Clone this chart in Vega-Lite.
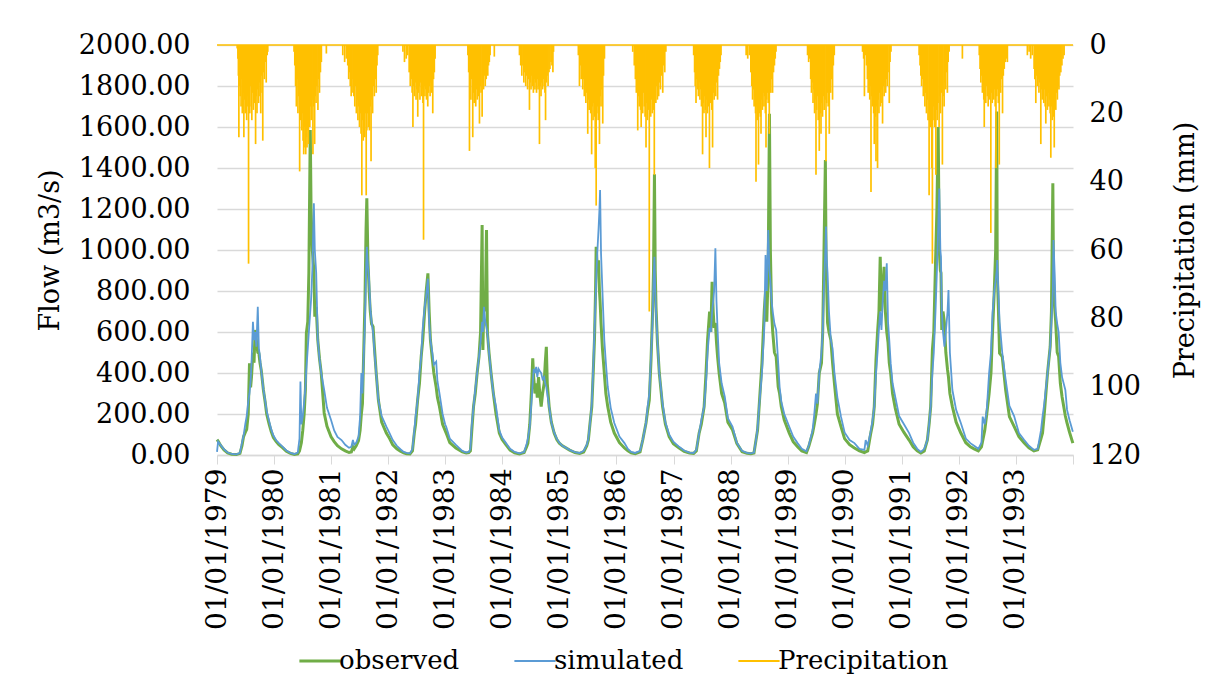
{
"$schema":"https://vega.github.io/schema/vega-lite/v6.json",
"width":856,"height":410,
"autosize":{"type":"none"},
"padding":{"left":217,"top":45,"right":139,"bottom":241},
"background":"white",
"config":{"view":{"stroke":null},"font":"DejaVu Serif, serif","legend":{"labelFont":"DejaVu Serif, serif"},"axis":{"labelFont":"DejaVu Serif, serif","titleFont":"DejaVu Serif, serif","labelColor":"black","titleColor":"black","titleFontWeight":"normal","labelFlush":false,"labelOverlap":false,"labelBound":false}},
"datasets":{
"flow":[
{"d":"1979-01-01","o":75,"s":15},{"d":"1979-01-08","o":68,"s":65},{"d":"1979-01-25","o":45,"s":48},{"d":"1979-02-15","o":25,"s":28},{"d":"1979-03-10","o":10,"s":12},{"d":"1979-04-05","o":4,"s":5},{"d":"1979-05-05","o":2,"s":3},{"d":"1979-05-28","o":8,"s":10},{"d":"1979-06-10","o":45,"s":60},{"d":"1979-06-20","o":90,"s":95},{"d":"1979-07-01","o":110,"s":150},{"d":"1979-07-10","o":125,"s":190},{"d":"1979-07-20","o":200,"s":260},{"d":"1979-07-28","o":447,"s":300},{"d":"1979-08-04","o":330,"s":360},{"d":"1979-08-10","o":382,"s":450},{"d":"1979-08-19","o":500,"s":650},{"d":"1979-08-26","o":450,"s":560},{"d":"1979-09-02","o":610,"s":600},{"d":"1979-09-10","o":560,"s":528},{"d":"1979-09-19","o":500,"s":723},{"d":"1979-09-26","o":496,"s":520},{"d":"1979-10-03","o":450,"s":480},{"d":"1979-10-11","o":415,"s":415},{"d":"1979-10-25","o":317,"s":320},{"d":"1979-11-05","o":260,"s":268},{"d":"1979-11-15","o":200,"s":215},{"d":"1979-12-01","o":150,"s":165},{"d":"1979-12-14","o":115,"s":125},{"d":"1979-12-28","o":85,"s":95},
{"d":"1980-01-15","o":65,"s":72},{"d":"1980-02-01","o":50,"s":58},{"d":"1980-02-26","o":35,"s":40},{"d":"1980-03-20","o":18,"s":22},{"d":"1980-04-15","o":8,"s":10},{"d":"1980-05-10","o":3,"s":5},{"d":"1980-06-01","o":6,"s":12},{"d":"1980-06-12","o":20,"s":80},{"d":"1980-06-18","o":40,"s":358},{"d":"1980-06-24","o":60,"s":150},{"d":"1980-07-03","o":120,"s":187},{"d":"1980-07-12","o":200,"s":260},{"d":"1980-07-20","o":320,"s":330},{"d":"1980-07-26","o":595,"s":420},{"d":"1980-08-04","o":650,"s":520},{"d":"1980-08-11","o":888,"s":600},{"d":"1980-08-20","o":1585,"s":700},{"d":"1980-08-25","o":1200,"s":756},{"d":"1980-09-02","o":1000,"s":900},{"d":"1980-09-12","o":900,"s":1228},{"d":"1980-09-18","o":675,"s":1000},{"d":"1980-09-27","o":723,"s":888},{"d":"1980-10-07","o":561,"s":561},{"d":"1980-10-18","o":470,"s":470},{"d":"1980-10-29","o":400,"s":400},{"d":"1980-11-17","o":205,"s":317},{"d":"1980-12-05","o":140,"s":230},{"d":"1980-12-31","o":89,"s":171},
{"d":"1981-01-20","o":65,"s":120},{"d":"1981-02-10","o":45,"s":88},{"d":"1981-03-08","o":30,"s":73},{"d":"1981-04-01","o":20,"s":50},{"d":"1981-04-25","o":12,"s":35},{"d":"1981-05-10","o":15,"s":40},{"d":"1981-05-20","o":40,"s":73},{"d":"1981-05-28","o":30,"s":50},{"d":"1981-06-10","o":45,"s":60},{"d":"1981-06-25","o":70,"s":90},{"d":"1981-07-05","o":120,"s":187},{"d":"1981-07-13","o":200,"s":400},{"d":"1981-07-20","o":250,"s":300},{"d":"1981-07-28","o":500,"s":480},{"d":"1981-08-05","o":750,"s":650},{"d":"1981-08-12","o":1100,"s":900},{"d":"1981-08-17","o":1252,"s":1016},{"d":"1981-08-24","o":950,"s":918},{"d":"1981-09-01","o":800,"s":850},{"d":"1981-09-08","o":700,"s":723},{"d":"1981-09-16","o":640,"s":650},{"d":"1981-09-26","o":626,"s":600},{"d":"1981-10-05","o":520,"s":500},{"d":"1981-10-16","o":400,"s":400},{"d":"1981-10-30","o":268,"s":268},{"d":"1981-11-20","o":160,"s":190},{"d":"1981-12-20","o":107,"s":138},
{"d":"1982-01-10","o":80,"s":105},{"d":"1982-01-30","o":49,"s":73},{"d":"1982-02-25","o":30,"s":45},{"d":"1982-03-20","o":18,"s":28},{"d":"1982-04-10","o":10,"s":15},{"d":"1982-04-28","o":6,"s":10},{"d":"1982-05-20","o":5,"s":8},{"d":"1982-06-05","o":20,"s":30},{"d":"1982-06-17","o":107,"s":120},{"d":"1982-06-25","o":150,"s":190},{"d":"1982-07-08","o":268,"s":268},{"d":"1982-07-20","o":350,"s":400},{"d":"1982-07-31","o":480,"s":480},{"d":"1982-08-10","o":560,"s":620},{"d":"1982-08-22","o":700,"s":720},{"d":"1982-09-01","o":800,"s":780},{"d":"1982-09-12","o":886,"s":860},{"d":"1982-09-20","o":700,"s":650},{"d":"1982-09-28","o":561,"s":561},{"d":"1982-10-10","o":470,"s":500},{"d":"1982-10-20","o":400,"s":440},{"d":"1982-11-04","o":330,"s":455},{"d":"1982-11-12","o":280,"s":360},{"d":"1982-11-25","o":236,"s":301},{"d":"1982-12-15","o":150,"s":200},{"d":"1982-12-31","o":120,"s":150},
{"d":"1983-01-07","o":107,"s":138},{"d":"1983-01-30","o":60,"s":80},{"d":"1983-03-10","o":34,"s":49},{"d":"1983-04-20","o":15,"s":20},{"d":"1983-05-15","o":10,"s":12},{"d":"1983-06-01","o":12,"s":15},{"d":"1983-06-11","o":20,"s":30},{"d":"1983-06-20","o":120,"s":150},{"d":"1983-07-01","o":236,"s":236},{"d":"1983-07-12","o":300,"s":320},{"d":"1983-07-24","o":400,"s":400},{"d":"1983-08-05","o":480,"s":480},{"d":"1983-08-15","o":600,"s":550},{"d":"1983-08-25","o":1122,"s":650},{"d":"1983-08-30","o":512,"s":600},{"d":"1983-09-06","o":800,"s":723},{"d":"1983-09-14","o":700,"s":650},{"d":"1983-09-22","o":1098,"s":620},{"d":"1983-09-28","o":595,"s":595},{"d":"1983-10-08","o":500,"s":500},{"d":"1983-10-21","o":400,"s":400},{"d":"1983-11-05","o":300,"s":300},{"d":"1983-11-22","o":200,"s":236},{"d":"1983-12-13","o":107,"s":120},{"d":"1983-12-31","o":75,"s":85},
{"d":"1984-01-25","o":49,"s":58},{"d":"1984-02-20","o":24,"s":30},{"d":"1984-03-20","o":10,"s":15},{"d":"1984-04-20","o":5,"s":8},{"d":"1984-05-20","o":12,"s":15},{"d":"1984-06-05","o":40,"s":55},{"d":"1984-06-13","o":58,"s":80},{"d":"1984-06-25","o":150,"s":140},{"d":"1984-07-05","o":300,"s":250},{"d":"1984-07-14","o":472,"s":350},{"d":"1984-07-20","o":380,"s":420},{"d":"1984-07-28","o":300,"s":400},{"d":"1984-08-05","o":350,"s":430},{"d":"1984-08-12","o":280,"s":380},{"d":"1984-08-20","o":380,"s":420},{"d":"1984-08-28","o":300,"s":410},{"d":"1984-09-06","o":236,"s":400},{"d":"1984-09-15","o":300,"s":370},{"d":"1984-09-25","o":350,"s":380},{"d":"1984-10-02","o":450,"s":350},{"d":"1984-10-09","o":528,"s":330},{"d":"1984-10-15","o":350,"s":300},{"d":"1984-10-27","o":236,"s":236},{"d":"1984-11-10","o":160,"s":160},{"d":"1984-11-28","o":107,"s":110},{"d":"1984-12-15","o":75,"s":80},{"d":"1984-12-31","o":58,"s":60},
{"d":"1985-01-20","o":45,"s":45},{"d":"1985-03-07","o":24,"s":25},{"d":"1985-04-10","o":12,"s":14},{"d":"1985-05-10","o":8,"s":10},{"d":"1985-06-05","o":15,"s":20},{"d":"1985-06-25","o":45,"s":50},{"d":"1985-07-05","o":73,"s":80},{"d":"1985-07-15","o":150,"s":150},{"d":"1985-07-27","o":236,"s":250},{"d":"1985-08-05","o":400,"s":420},{"d":"1985-08-13","o":561,"s":600},{"d":"1985-08-20","o":800,"s":750},{"d":"1985-08-24","o":1016,"s":850},{"d":"1985-09-01","o":900,"s":1000},{"d":"1985-09-08","o":950,"s":1100},{"d":"1985-09-14","o":800,"s":1200},{"d":"1985-09-18","o":750,"s":1293},{"d":"1985-09-24","o":644,"s":985},{"d":"1985-10-03","o":520,"s":800},{"d":"1985-10-15","o":400,"s":561},{"d":"1985-10-25","o":300,"s":450},{"d":"1985-11-06","o":236,"s":333},{"d":"1985-11-25","o":160,"s":230},{"d":"1985-12-18","o":107,"s":156},
{"d":"1986-01-20","o":60,"s":90},{"d":"1986-02-21","o":34,"s":58},{"d":"1986-03-15","o":20,"s":30},{"d":"1986-04-05","o":10,"s":15},{"d":"1986-05-01","o":6,"s":10},{"d":"1986-06-01","o":15,"s":20},{"d":"1986-06-18","o":73,"s":73},{"d":"1986-07-09","o":156,"s":156},{"d":"1986-07-20","o":220,"s":240},{"d":"1986-07-30","o":268,"s":300},{"d":"1986-08-10","o":463,"s":480},{"d":"1986-08-20","o":700,"s":650},{"d":"1986-08-26","o":900,"s":850},{"d":"1986-09-01","o":1370,"s":967},{"d":"1986-09-06","o":900,"s":805},{"d":"1986-09-11","o":723,"s":700},{"d":"1986-09-20","o":550,"s":560},{"d":"1986-10-02","o":400,"s":400},{"d":"1986-10-23","o":236,"s":250},{"d":"1986-11-10","o":150,"s":160},{"d":"1986-12-04","o":89,"s":100},{"d":"1986-12-31","o":55,"s":65},
{"d":"1987-02-06","o":34,"s":40},{"d":"1987-03-10","o":18,"s":22},{"d":"1987-04-13","o":10,"s":12},{"d":"1987-05-10","o":8,"s":10},{"d":"1987-05-27","o":20,"s":25},{"d":"1987-06-14","o":107,"s":107},{"d":"1987-06-28","o":150,"s":170},{"d":"1987-07-16","o":236,"s":236},{"d":"1987-07-28","o":400,"s":350},{"d":"1987-08-07","o":561,"s":500},{"d":"1987-08-20","o":700,"s":620},{"d":"1987-08-28","o":600,"s":600},{"d":"1987-09-05","o":845,"s":700},{"d":"1987-09-12","o":700,"s":750},{"d":"1987-09-18","o":620,"s":800},{"d":"1987-09-26","o":644,"s":1008},{"d":"1987-10-03","o":550,"s":750},{"d":"1987-10-10","o":480,"s":610},{"d":"1987-10-20","o":400,"s":450},{"d":"1987-11-05","o":300,"s":350},{"d":"1987-11-25","o":253,"s":284},{"d":"1987-12-15","o":160,"s":180},
{"d":"1988-01-14","o":122,"s":138},{"d":"1988-02-10","o":57,"s":60},{"d":"1988-03-15","o":16,"s":20},{"d":"1988-04-15","o":8,"s":10},{"d":"1988-05-10","o":6,"s":8},{"d":"1988-05-30","o":10,"s":12},{"d":"1988-06-12","o":73,"s":73},{"d":"1988-06-22","o":122,"s":130},{"d":"1988-07-02","o":236,"s":236},{"d":"1988-07-20","o":448,"s":400},{"d":"1988-08-04","o":707,"s":620},{"d":"1988-08-12","o":800,"s":976},{"d":"1988-08-20","o":650,"s":800},{"d":"1988-08-29","o":900,"s":1098},{"d":"1988-09-06","o":1665,"s":900},{"d":"1988-09-12","o":1000,"s":850},{"d":"1988-09-20","o":692,"s":750},{"d":"1988-09-27","o":600,"s":700},{"d":"1988-10-08","o":500,"s":640},{"d":"1988-10-19","o":480,"s":610},{"d":"1988-11-01","o":333,"s":450},{"d":"1988-11-10","o":300,"s":333},{"d":"1988-11-21","o":236,"s":260},{"d":"1988-12-10","o":170,"s":200},
{"d":"1989-01-11","o":107,"s":138},{"d":"1989-02-05","o":65,"s":90},{"d":"1989-03-05","o":40,"s":58},{"d":"1989-04-01","o":20,"s":30},{"d":"1989-05-01","o":12,"s":18},{"d":"1989-05-15","o":40,"s":45},{"d":"1989-06-09","o":107,"s":120},{"d":"1989-06-20","o":150,"s":200},{"d":"1989-07-01","o":200,"s":300},{"d":"1989-07-10","o":250,"s":250},{"d":"1989-07-22","o":400,"s":400},{"d":"1989-08-05","o":448,"s":500},{"d":"1989-08-13","o":600,"s":600},{"d":"1989-08-20","o":936,"s":800},{"d":"1989-08-30","o":1439,"s":1000},{"d":"1989-09-03","o":1000,"s":1114},{"d":"1989-09-08","o":800,"s":950},{"d":"1989-09-13","o":644,"s":888},{"d":"1989-09-22","o":600,"s":700},{"d":"1989-10-04","o":561,"s":561},{"d":"1989-10-15","o":450,"s":520},{"d":"1989-10-27","o":350,"s":400},{"d":"1989-11-15","o":200,"s":280},{"d":"1989-12-08","o":138,"s":187},{"d":"1989-12-31","o":80,"s":110},
{"d":"1990-02-01","o":50,"s":73},{"d":"1990-03-04","o":34,"s":58},{"d":"1990-04-05","o":20,"s":30},{"d":"1990-05-07","o":12,"s":25},{"d":"1990-05-15","o":15,"s":73},{"d":"1990-05-28","o":20,"s":45},{"d":"1990-06-15","o":100,"s":110},{"d":"1990-06-28","o":150,"s":170},{"d":"1990-07-09","o":236,"s":236},{"d":"1990-07-20","o":463,"s":400},{"d":"1990-07-30","o":600,"s":500},{"d":"1990-08-08","o":700,"s":620},{"d":"1990-08-16","o":967,"s":700},{"d":"1990-08-24","o":700,"s":610},{"d":"1990-09-01","o":800,"s":750},{"d":"1990-09-10","o":918,"s":850},{"d":"1990-09-18","o":700,"s":800},{"d":"1990-09-27","o":600,"s":935},{"d":"1990-10-05","o":550,"s":650},{"d":"1990-10-13","o":450,"s":561},{"d":"1990-10-22","o":400,"s":448},{"d":"1990-11-03","o":300,"s":350},{"d":"1990-11-20","o":230,"s":284},{"d":"1990-12-15","o":150,"s":190},
{"d":"1991-01-15","o":110,"s":150},{"d":"1991-02-17","o":73,"s":107},{"d":"1991-03-15","o":40,"s":60},{"d":"1991-04-10","o":20,"s":30},{"d":"1991-05-03","o":10,"s":15},{"d":"1991-05-25","o":20,"s":30},{"d":"1991-06-14","o":73,"s":73},{"d":"1991-06-25","o":150,"s":150},{"d":"1991-07-05","o":236,"s":236},{"d":"1991-07-16","o":512,"s":400},{"d":"1991-07-25","o":600,"s":500},{"d":"1991-08-05","o":936,"s":700},{"d":"1991-08-14","o":1200,"s":900},{"d":"1991-08-22","o":1600,"s":1100},{"d":"1991-08-29","o":1000,"s":1300},{"d":"1991-09-05","o":900,"s":1000},{"d":"1991-09-09","o":888,"s":967},{"d":"1991-09-14","o":610,"s":700},{"d":"1991-09-22","o":700,"s":600},{"d":"1991-10-01","o":644,"s":528},{"d":"1991-10-10","o":500,"s":600},{"d":"1991-10-21","o":415,"s":700},{"d":"1991-10-27","o":380,"s":805},{"d":"1991-11-05","o":300,"s":500},{"d":"1991-11-21","o":236,"s":317},{"d":"1991-12-15","o":160,"s":220},
{"d":"1992-01-14","o":107,"s":156},{"d":"1992-02-15","o":60,"s":80},{"d":"1992-03-15","o":40,"s":58},{"d":"1992-04-08","o":30,"s":45},{"d":"1992-05-05","o":20,"s":30},{"d":"1992-05-25","o":40,"s":60},{"d":"1992-06-02","o":70,"s":187},{"d":"1992-06-15","o":120,"s":150},{"d":"1992-06-28","o":200,"s":220},{"d":"1992-07-13","o":300,"s":400},{"d":"1992-07-25","o":400,"s":500},{"d":"1992-08-04","o":600,"s":692},{"d":"1992-08-15","o":800,"s":800},{"d":"1992-08-24","o":1000,"s":850},{"d":"1992-08-31","o":1675,"s":900},{"d":"1992-09-03","o":900,"s":951},{"d":"1992-09-10","o":723,"s":800},{"d":"1992-09-18","o":496,"s":650},{"d":"1992-10-05","o":480,"s":500},{"d":"1992-10-27","o":317,"s":366},{"d":"1992-11-20","o":187,"s":240},{"d":"1992-12-20","o":140,"s":190},
{"d":"1993-01-20","o":89,"s":107},{"d":"1993-02-23","o":58,"s":73},{"d":"1993-03-25","o":35,"s":45},{"d":"1993-04-26","o":20,"s":25},{"d":"1993-05-20","o":25,"s":30},{"d":"1993-06-10","o":80,"s":120},{"d":"1993-06-20","o":107,"s":187},{"d":"1993-07-01","o":200,"s":250},{"d":"1993-07-22","o":400,"s":400},{"d":"1993-08-08","o":528,"s":528},{"d":"1993-08-16","o":700,"s":650},{"d":"1993-08-25","o":1325,"s":800},{"d":"1993-08-29","o":900,"s":1049},{"d":"1993-09-05","o":723,"s":900},{"d":"1993-09-12","o":650,"s":700},{"d":"1993-09-22","o":500,"s":640},{"d":"1993-10-01","o":480,"s":600},{"d":"1993-10-12","o":350,"s":450},{"d":"1993-10-23","o":284,"s":380},{"d":"1993-11-13","o":190,"s":317},{"d":"1993-11-24","o":156,"s":220},{"d":"1993-12-10","o":110,"s":170},{"d":"1993-12-31","o":58,"s":114}
],
"rain":[
{"d":"1979-05-10","p":1},{"d":"1979-05-15","p":4},{"d":"1979-05-18","p":9},{"d":"1979-05-21","p":27},{"d":"1979-05-25","p":12},{"d":"1979-05-30","p":15},{"d":"1979-06-04","p":18},{"d":"1979-06-08","p":10},{"d":"1979-06-12","p":20},{"d":"1979-06-17","p":14},{"d":"1979-06-22","p":27},{"d":"1979-06-26","p":16},{"d":"1979-07-01","p":20},{"d":"1979-07-05","p":12},{"d":"1979-07-10","p":22},{"d":"1979-07-15","p":15},{"d":"1979-07-18","p":18},{"d":"1979-07-22","p":64},{"d":"1979-07-26","p":14},{"d":"1979-07-30","p":20},{"d":"1979-08-04","p":12},{"d":"1979-08-08","p":18},{"d":"1979-08-12","p":22},{"d":"1979-08-17","p":14},{"d":"1979-08-22","p":19},{"d":"1979-08-26","p":12},{"d":"1979-08-31","p":17},{"d":"1979-09-05","p":29},{"d":"1979-09-09","p":15},{"d":"1979-09-14","p":20},{"d":"1979-09-19","p":13},{"d":"1979-09-24","p":17},{"d":"1979-09-28","p":11},{"d":"1979-10-03","p":15},{"d":"1979-10-08","p":20},{"d":"1979-10-13","p":9},{"d":"1979-10-17","p":14},{"d":"1979-10-21","p":28},{"d":"1979-10-26","p":8},{"d":"1979-10-31","p":10},{"d":"1979-11-05","p":5},{"d":"1979-11-12","p":11},{"d":"1979-11-18","p":3},{"d":"1979-11-22","p":2},
{"d":"1980-05-08","p":2},{"d":"1980-05-13","p":6},{"d":"1980-05-18","p":12},{"d":"1980-05-23","p":18},{"d":"1980-05-28","p":10},{"d":"1980-06-02","p":20},{"d":"1980-06-07","p":15},{"d":"1980-06-13","p":37},{"d":"1980-06-17","p":22},{"d":"1980-06-22","p":18},{"d":"1980-06-27","p":25},{"d":"1980-07-01","p":20},{"d":"1980-07-05","p":28},{"d":"1980-07-09","p":32},{"d":"1980-07-13","p":24},{"d":"1980-07-17","p":30},{"d":"1980-07-22","p":32},{"d":"1980-07-26","p":27},{"d":"1980-07-30","p":30},{"d":"1980-08-03","p":25},{"d":"1980-08-08","p":29},{"d":"1980-08-12","p":22},{"d":"1980-08-17","p":24},{"d":"1980-08-21","p":18},{"d":"1980-08-26","p":22},{"d":"1980-08-31","p":16},{"d":"1980-09-06","p":32},{"d":"1980-09-10","p":18},{"d":"1980-09-17","p":29},{"d":"1980-09-21","p":15},{"d":"1980-09-26","p":17},{"d":"1980-10-01","p":12},{"d":"1980-10-08","p":19},{"d":"1980-10-13","p":10},{"d":"1980-10-18","p":14},{"d":"1980-10-24","p":8},{"d":"1980-10-30","p":5},{"d":"1980-12-01","p":2.5},
{"d":"1981-03-16","p":3},{"d":"1981-03-28","p":5},{"d":"1981-04-08","p":4},{"d":"1981-04-17","p":6},{"d":"1981-04-23","p":10},{"d":"1981-04-28","p":8},{"d":"1981-05-03","p":12},{"d":"1981-05-09","p":15},{"d":"1981-05-14","p":10},{"d":"1981-05-20","p":14},{"d":"1981-05-26","p":15},{"d":"1981-06-01","p":18},{"d":"1981-06-06","p":12},{"d":"1981-06-11","p":20},{"d":"1981-06-16","p":16},{"d":"1981-06-21","p":22},{"d":"1981-06-26","p":18},{"d":"1981-07-01","p":24},{"d":"1981-07-06","p":20},{"d":"1981-07-11","p":26},{"d":"1981-07-16","p":44},{"d":"1981-07-20","p":22},{"d":"1981-07-25","p":28},{"d":"1981-07-30","p":24},{"d":"1981-08-04","p":27},{"d":"1981-08-08","p":20},{"d":"1981-08-13","p":44},{"d":"1981-08-17","p":25},{"d":"1981-08-22","p":20},{"d":"1981-08-27","p":24},{"d":"1981-09-03","p":25},{"d":"1981-09-08","p":18},{"d":"1981-09-13","p":34},{"d":"1981-09-18","p":16},{"d":"1981-09-23","p":20},{"d":"1981-09-28","p":12},{"d":"1981-10-04","p":15},{"d":"1981-10-10","p":10},{"d":"1981-10-16","p":14},{"d":"1981-10-21","p":6},{"d":"1981-10-26","p":3},
{"d":"1982-04-05","p":2},{"d":"1982-04-15","p":5},{"d":"1982-04-26","p":4},{"d":"1982-05-05","p":3},{"d":"1982-05-15","p":8},{"d":"1982-05-22","p":12},{"d":"1982-05-28","p":10},{"d":"1982-06-03","p":14},{"d":"1982-06-08","p":24},{"d":"1982-06-13","p":12},{"d":"1982-06-18","p":15},{"d":"1982-06-23","p":11},{"d":"1982-06-28","p":16},{"d":"1982-07-03","p":13},{"d":"1982-07-09","p":21},{"d":"1982-07-13","p":14},{"d":"1982-07-18","p":12},{"d":"1982-07-23","p":16},{"d":"1982-07-28","p":11},{"d":"1982-08-02","p":15},{"d":"1982-08-07","p":13},{"d":"1982-08-11","p":17},{"d":"1982-08-15","p":57},{"d":"1982-08-19","p":12},{"d":"1982-08-24","p":15},{"d":"1982-08-29","p":13},{"d":"1982-09-03","p":16},{"d":"1982-09-07","p":12},{"d":"1982-09-11","p":18},{"d":"1982-09-16","p":14},{"d":"1982-09-21","p":12},{"d":"1982-09-26","p":15},{"d":"1982-10-01","p":11},{"d":"1982-10-06","p":14},{"d":"1982-10-13","p":20},{"d":"1982-10-18","p":10},{"d":"1982-10-23","p":8},{"d":"1982-10-28","p":4},
{"d":"1983-05-26","p":3},{"d":"1983-05-31","p":8},{"d":"1983-06-05","p":31},{"d":"1983-06-09","p":12},{"d":"1983-06-14","p":16},{"d":"1983-06-19","p":10},{"d":"1983-06-26","p":27},{"d":"1983-06-30","p":14},{"d":"1983-07-05","p":17},{"d":"1983-07-10","p":12},{"d":"1983-07-15","p":18},{"d":"1983-07-20","p":13},{"d":"1983-07-25","p":16},{"d":"1983-07-30","p":11},{"d":"1983-08-04","p":15},{"d":"1983-08-08","p":23},{"d":"1983-08-13","p":12},{"d":"1983-08-18","p":14},{"d":"1983-08-25","p":21},{"d":"1983-08-29","p":11},{"d":"1983-09-03","p":13},{"d":"1983-09-08","p":9},{"d":"1983-09-14","p":12},{"d":"1983-09-20","p":10},{"d":"1983-09-25","p":8},{"d":"1983-09-30","p":9},{"d":"1983-10-05","p":6},{"d":"1983-10-10","p":5},{"d":"1983-10-15","p":3},{"d":"1983-11-11","p":3.4},
{"d":"1984-04-20","p":3},{"d":"1984-04-28","p":6},{"d":"1984-05-05","p":9},{"d":"1984-05-12","p":6},{"d":"1984-05-18","p":11},{"d":"1984-05-24","p":8},{"d":"1984-05-30","p":12},{"d":"1984-06-05","p":9},{"d":"1984-06-11","p":13},{"d":"1984-06-17","p":10},{"d":"1984-06-23","p":19},{"d":"1984-06-28","p":11},{"d":"1984-07-03","p":13},{"d":"1984-07-08","p":9},{"d":"1984-07-13","p":12},{"d":"1984-07-18","p":14},{"d":"1984-07-23","p":10},{"d":"1984-07-28","p":13},{"d":"1984-08-02","p":11},{"d":"1984-08-07","p":14},{"d":"1984-08-12","p":10},{"d":"1984-08-17","p":13},{"d":"1984-08-22","p":12},{"d":"1984-08-26","p":29},{"d":"1984-08-31","p":12},{"d":"1984-09-05","p":15},{"d":"1984-09-10","p":11},{"d":"1984-09-15","p":13},{"d":"1984-09-20","p":10},{"d":"1984-09-25","p":12},{"d":"1984-09-30","p":14},{"d":"1984-10-04","p":22},{"d":"1984-10-09","p":11},{"d":"1984-10-14","p":9},{"d":"1984-10-20","p":12},{"d":"1984-10-26","p":8},{"d":"1984-11-01","p":7},{"d":"1984-11-08","p":5},{"d":"1984-11-14","p":6},{"d":"1984-11-20","p":8},{"d":"1984-11-24","p":2},
{"d":"1985-05-02","p":3},{"d":"1985-05-09","p":12},{"d":"1985-05-14","p":6},{"d":"1985-05-20","p":10},{"d":"1985-05-25","p":8},{"d":"1985-05-30","p":13},{"d":"1985-06-04","p":10},{"d":"1985-06-09","p":15},{"d":"1985-06-14","p":12},{"d":"1985-06-19","p":17},{"d":"1985-06-24","p":14},{"d":"1985-07-01","p":26},{"d":"1985-07-05","p":16},{"d":"1985-07-10","p":19},{"d":"1985-07-15","p":15},{"d":"1985-07-20","p":20},{"d":"1985-07-26","p":32},{"d":"1985-07-30","p":18},{"d":"1985-08-04","p":22},{"d":"1985-08-09","p":17},{"d":"1985-08-14","p":21},{"d":"1985-08-18","p":36},{"d":"1985-08-24","p":47},{"d":"1985-08-28","p":20},{"d":"1985-09-02","p":18},{"d":"1985-09-06","p":22},{"d":"1985-09-10","p":16},{"d":"1985-09-14","p":29},{"d":"1985-09-19","p":15},{"d":"1985-09-24","p":18},{"d":"1985-09-29","p":13},{"d":"1985-10-05","p":23},{"d":"1985-10-10","p":9},{"d":"1985-10-16","p":4},
{"d":"1986-04-15","p":2},{"d":"1986-04-25","p":6},{"d":"1986-05-02","p":10},{"d":"1986-05-08","p":14},{"d":"1986-05-12","p":11},{"d":"1986-05-17","p":25},{"d":"1986-05-22","p":15},{"d":"1986-05-27","p":18},{"d":"1986-06-01","p":13},{"d":"1986-06-04","p":19},{"d":"1986-06-08","p":24},{"d":"1986-06-13","p":16},{"d":"1986-06-18","p":20},{"d":"1986-06-23","p":14},{"d":"1986-06-28","p":18},{"d":"1986-07-03","p":21},{"d":"1986-07-09","p":30},{"d":"1986-07-13","p":17},{"d":"1986-07-18","p":22},{"d":"1986-07-23","p":15},{"d":"1986-07-27","p":19},{"d":"1986-07-30","p":78},{"d":"1986-08-03","p":18},{"d":"1986-08-08","p":21},{"d":"1986-08-13","p":16},{"d":"1986-08-18","p":20},{"d":"1986-08-23","p":15},{"d":"1986-08-27","p":19},{"d":"1986-08-31","p":38},{"d":"1986-09-05","p":14},{"d":"1986-09-10","p":17},{"d":"1986-09-15","p":12},{"d":"1986-09-20","p":16},{"d":"1986-09-28","p":15},{"d":"1986-10-03","p":11},{"d":"1986-10-09","p":13},{"d":"1986-10-15","p":9},{"d":"1986-10-24","p":14},{"d":"1986-10-30","p":6},{"d":"1986-11-06","p":8},{"d":"1986-11-13","p":2},
{"d":"1987-05-10","p":3},{"d":"1987-05-16","p":8},{"d":"1987-05-20","p":12},{"d":"1987-05-25","p":17},{"d":"1987-05-30","p":10},{"d":"1987-06-04","p":13},{"d":"1987-06-09","p":15},{"d":"1987-06-14","p":11},{"d":"1987-06-19","p":16},{"d":"1987-06-24","p":13},{"d":"1987-06-29","p":18},{"d":"1987-07-02","p":14},{"d":"1987-07-06","p":32},{"d":"1987-07-10","p":17},{"d":"1987-07-15","p":20},{"d":"1987-07-20","p":15},{"d":"1987-07-24","p":19},{"d":"1987-07-28","p":27},{"d":"1987-08-01","p":16},{"d":"1987-08-06","p":20},{"d":"1987-08-10","p":14},{"d":"1987-08-15","p":18},{"d":"1987-08-19","p":36},{"d":"1987-08-24","p":17},{"d":"1987-08-29","p":15},{"d":"1987-09-03","p":19},{"d":"1987-09-08","p":30},{"d":"1987-09-13","p":14},{"d":"1987-09-18","p":16},{"d":"1987-09-23","p":12},{"d":"1987-09-28","p":15},{"d":"1987-10-03","p":11},{"d":"1987-10-10","p":16},{"d":"1987-10-16","p":9},{"d":"1987-10-22","p":7},{"d":"1987-10-27","p":5},{"d":"1987-11-01","p":3},
{"d":"1988-04-10","p":3},{"d":"1988-04-20","p":4},{"d":"1988-05-01","p":3},{"d":"1988-05-10","p":8},{"d":"1988-05-16","p":12},{"d":"1988-05-21","p":16},{"d":"1988-05-26","p":13},{"d":"1988-05-31","p":18},{"d":"1988-06-05","p":15},{"d":"1988-06-09","p":20},{"d":"1988-06-12","p":40},{"d":"1988-06-16","p":18},{"d":"1988-06-20","p":22},{"d":"1988-06-24","p":16},{"d":"1988-06-28","p":35},{"d":"1988-07-02","p":20},{"d":"1988-07-06","p":17},{"d":"1988-07-10","p":21},{"d":"1988-07-14","p":26},{"d":"1988-07-18","p":16},{"d":"1988-07-23","p":19},{"d":"1988-07-28","p":14},{"d":"1988-08-02","p":18},{"d":"1988-08-06","p":15},{"d":"1988-08-11","p":20},{"d":"1988-08-15","p":30},{"d":"1988-08-19","p":16},{"d":"1988-08-24","p":14},{"d":"1988-08-29","p":17},{"d":"1988-09-01","p":13},{"d":"1988-09-05","p":26},{"d":"1988-09-10","p":12},{"d":"1988-09-15","p":14},{"d":"1988-09-20","p":10},{"d":"1988-09-26","p":14},{"d":"1988-10-02","p":8},{"d":"1988-10-08","p":6},{"d":"1988-10-13","p":4},{"d":"1988-10-18","p":2},
{"d":"1989-05-08","p":3},{"d":"1989-05-15","p":5},{"d":"1989-05-22","p":4},{"d":"1989-05-28","p":10},{"d":"1989-06-02","p":14},{"d":"1989-06-07","p":11},{"d":"1989-06-12","p":17},{"d":"1989-06-17","p":13},{"d":"1989-06-22","p":20},{"d":"1989-06-27","p":16},{"d":"1989-07-01","p":38},{"d":"1989-07-05","p":19},{"d":"1989-07-10","p":15},{"d":"1989-07-15","p":22},{"d":"1989-07-22","p":31},{"d":"1989-07-26","p":18},{"d":"1989-07-30","p":20},{"d":"1989-08-02","p":26},{"d":"1989-08-07","p":17},{"d":"1989-08-12","p":21},{"d":"1989-08-17","p":15},{"d":"1989-08-22","p":19},{"d":"1989-08-27","p":16},{"d":"1989-09-03","p":34},{"d":"1989-09-07","p":17},{"d":"1989-09-12","p":14},{"d":"1989-09-17","p":18},{"d":"1989-09-24","p":26},{"d":"1989-09-28","p":12},{"d":"1989-10-03","p":14},{"d":"1989-10-09","p":10},{"d":"1989-10-15","p":16},{"d":"1989-10-20","p":6},{"d":"1989-10-26","p":3},
{"d":"1990-04-25","p":2},{"d":"1990-05-02","p":4},{"d":"1990-05-07","p":15},{"d":"1990-05-12","p":3},{"d":"1990-05-20","p":6},{"d":"1990-05-26","p":10},{"d":"1990-05-31","p":14},{"d":"1990-06-05","p":11},{"d":"1990-06-10","p":16},{"d":"1990-06-14","p":12},{"d":"1990-06-18","p":43},{"d":"1990-06-22","p":15},{"d":"1990-06-27","p":18},{"d":"1990-07-01","p":14},{"d":"1990-07-05","p":20},{"d":"1990-07-09","p":29},{"d":"1990-07-13","p":17},{"d":"1990-07-17","p":21},{"d":"1990-07-20","p":34},{"d":"1990-07-25","p":18},{"d":"1990-07-30","p":36},{"d":"1990-08-03","p":16},{"d":"1990-08-08","p":20},{"d":"1990-08-13","p":14},{"d":"1990-08-18","p":18},{"d":"1990-08-23","p":13},{"d":"1990-08-27","p":17},{"d":"1990-08-31","p":23},{"d":"1990-09-05","p":12},{"d":"1990-09-10","p":15},{"d":"1990-09-15","p":11},{"d":"1990-09-20","p":14},{"d":"1990-09-25","p":10},{"d":"1990-09-30","p":12},{"d":"1990-10-05","p":8},{"d":"1990-10-13","p":17},{"d":"1990-10-18","p":5},{"d":"1990-10-24","p":2},
{"d":"1991-04-22","p":3},{"d":"1991-04-28","p":6},{"d":"1991-05-03","p":9},{"d":"1991-05-08","p":12},{"d":"1991-05-14","p":10},{"d":"1991-05-19","p":15},{"d":"1991-05-24","p":12},{"d":"1991-05-29","p":18},{"d":"1991-06-03","p":14},{"d":"1991-06-08","p":20},{"d":"1991-06-13","p":16},{"d":"1991-06-18","p":22},{"d":"1991-06-25","p":44},{"d":"1991-06-29","p":20},{"d":"1991-07-03","p":24},{"d":"1991-07-08","p":18},{"d":"1991-07-12","p":36},{"d":"1991-07-16","p":64},{"d":"1991-07-20","p":22},{"d":"1991-07-25","p":18},{"d":"1991-07-30","p":24},{"d":"1991-08-03","p":20},{"d":"1991-08-07","p":38},{"d":"1991-08-11","p":19},{"d":"1991-08-16","p":22},{"d":"1991-08-21","p":17},{"d":"1991-08-28","p":24},{"d":"1991-09-01","p":15},{"d":"1991-09-06","p":20},{"d":"1991-09-11","p":14},{"d":"1991-09-18","p":35},{"d":"1991-09-22","p":15},{"d":"1991-09-29","p":18},{"d":"1991-10-04","p":11},{"d":"1991-10-09","p":13},{"d":"1991-10-14","p":8},{"d":"1991-10-20","p":14},{"d":"1991-10-25","p":5},{"d":"1991-10-31","p":2},
{"d":"1992-01-24","p":4},{"d":"1992-05-11","p":3},{"d":"1992-05-16","p":7},{"d":"1992-05-21","p":11},{"d":"1992-05-26","p":9},{"d":"1992-05-31","p":14},{"d":"1992-06-05","p":11},{"d":"1992-06-09","p":16},{"d":"1992-06-12","p":24},{"d":"1992-06-17","p":13},{"d":"1992-06-22","p":17},{"d":"1992-06-27","p":12},{"d":"1992-07-02","p":15},{"d":"1992-07-07","p":18},{"d":"1992-07-12","p":13},{"d":"1992-07-17","p":16},{"d":"1992-07-24","p":55},{"d":"1992-07-28","p":14},{"d":"1992-08-02","p":17},{"d":"1992-08-07","p":12},{"d":"1992-08-12","p":16},{"d":"1992-08-17","p":13},{"d":"1992-08-21","p":18},{"d":"1992-08-26","p":36},{"d":"1992-08-31","p":15},{"d":"1992-09-05","p":13},{"d":"1992-09-10","p":17},{"d":"1992-09-16","p":35},{"d":"1992-09-20","p":12},{"d":"1992-09-25","p":14},{"d":"1992-09-30","p":10},{"d":"1992-10-07","p":20},{"d":"1992-10-12","p":9},{"d":"1992-10-18","p":7},{"d":"1992-10-25","p":5},{"d":"1992-11-01","p":4},{"d":"1992-11-07","p":5},
{"d":"1993-03-15","p":3},{"d":"1993-03-26","p":2},{"d":"1993-04-05","p":4},{"d":"1993-04-15","p":3},{"d":"1993-04-27","p":7},{"d":"1993-05-02","p":10},{"d":"1993-05-08","p":17},{"d":"1993-05-13","p":9},{"d":"1993-05-18","p":12},{"d":"1993-05-23","p":10},{"d":"1993-05-28","p":14},{"d":"1993-06-02","p":11},{"d":"1993-06-09","p":29},{"d":"1993-06-13","p":13},{"d":"1993-06-18","p":16},{"d":"1993-06-23","p":12},{"d":"1993-06-28","p":17},{"d":"1993-07-03","p":13},{"d":"1993-07-07","p":18},{"d":"1993-07-11","p":23},{"d":"1993-07-16","p":15},{"d":"1993-07-21","p":19},{"d":"1993-07-26","p":14},{"d":"1993-07-31","p":18},{"d":"1993-08-04","p":16},{"d":"1993-08-08","p":20},{"d":"1993-08-12","p":33},{"d":"1993-08-16","p":18},{"d":"1993-08-21","p":22},{"d":"1993-08-26","p":17},{"d":"1993-08-30","p":21},{"d":"1993-09-03","p":30},{"d":"1993-09-08","p":16},{"d":"1993-09-13","p":19},{"d":"1993-09-18","p":14},{"d":"1993-09-23","p":16},{"d":"1993-09-28","p":12},{"d":"1993-10-03","p":13},{"d":"1993-10-08","p":9},{"d":"1993-10-15","p":8},{"d":"1993-10-22","p":6},{"d":"1993-10-29","p":4},{"d":"1993-11-05","p":3}
]},
"layer":[
{"layer":[
{"data":{"name":"flow"},"mark":{"type":"line","strokeWidth":3,"interpolate":"linear"},
"encoding":{
"x":{"field":"d","type":"temporal","scale":{"type":"utc","domain":["1979-01-01","1994-01-01"]},
"axis":{"title":null,"values":[{"year":1979,"month":1,"date":1,"utc":true},{"year":1980,"month":1,"date":1,"utc":true},{"year":1981,"month":1,"date":1,"utc":true},{"year":1982,"month":1,"date":1,"utc":true},{"year":1983,"month":1,"date":1,"utc":true},{"year":1984,"month":1,"date":1,"utc":true},{"year":1985,"month":1,"date":1,"utc":true},{"year":1986,"month":1,"date":1,"utc":true},{"year":1987,"month":1,"date":1,"utc":true},{"year":1988,"month":1,"date":1,"utc":true},{"year":1989,"month":1,"date":1,"utc":true},{"year":1990,"month":1,"date":1,"utc":true},{"year":1991,"month":1,"date":1,"utc":true},{"year":1992,"month":1,"date":1,"utc":true},{"year":1993,"month":1,"date":1,"utc":true},{"year":1994,"month":1,"date":1,"utc":true}],
"labelExpr":"utcyear(datum.value) > 1993 ? '' : utcFormat(datum.value, '%d/%m/%Y')",
"labelAngle":270,"labelFontSize":28,"labelPadding":4,"grid":false,"ticks":true,"tickSize":9,"tickColor":"#D9D9D9","domain":true,"domainColor":"#D9D9D9","domainWidth":1.5}},
"y":{"field":"o","type":"quantitative","scale":{"domain":[0,2000],"nice":false},
"axis":{"title":"Flow (m3/s)","titleFontSize":27,"titlePadding":14,"values":[0,200,400,600,800,1000,1200,1400,1600,1800,2000],"format":".2f","labelFontSize":27,"labelPadding":27,"ticks":false,"domain":false,"grid":true,"gridColor":"#D9D9D9","gridWidth":1.3}},
"color":{"datum":"observed","type":"nominal","scale":{"domain":["observed","simulated","Precipitation"],"range":["#70AD47","#5B9BD5","#FFC000"]},
"legend":{"title":null,"orient":"none","legendX":90,"legendY":603,"direction":"horizontal","symbolType":"stroke","symbolSize":1700,"symbolStrokeWidth":2.5,"labelFontSize":26,"labelFont":"DejaVu Serif, serif","labelColor":"black","labelOffset":6,"columnPadding":50,"labelLimit":400,
"encode":{"symbols":{"update":{"strokeWidth":{"signal":"datum.value === 'observed' ? 3 : 2"}}}}}}}},
{"data":{"name":"flow"},"mark":{"type":"line","strokeWidth":1.8},
"encoding":{"x":{"field":"d","type":"temporal"},"y":{"field":"s","type":"quantitative"},"color":{"datum":"simulated","type":"nominal"}}}
]},
{"layer":[
{"data":{"name":"rain"},"mark":{"type":"rule","strokeWidth":1.7},
"encoding":{"x":{"field":"d","type":"temporal"},
"y":{"field":"p","type":"quantitative","scale":{"domain":[0,120],"reverse":true,"nice":false},
"axis":{"orient":"right","title":"Precipitation (mm)","titleFontSize":27,"titleAngle":270,"titleBaseline":"top","titlePadding":32,"values":[0,20,40,60,80,100,120],"labelFontSize":27,"labelPadding":16,"ticks":false,"domain":false,"grid":false}},
"y2":{"datum":0},
"color":{"datum":"Precipitation","type":"nominal"}}},
{"data":{"values":[{}]},"mark":{"type":"rule","strokeWidth":1.5,"color":"#FFC000"},"encoding":{"y":{"datum":0}}}
]}
],
"resolve":{"scale":{"y":"independent"}}
}
